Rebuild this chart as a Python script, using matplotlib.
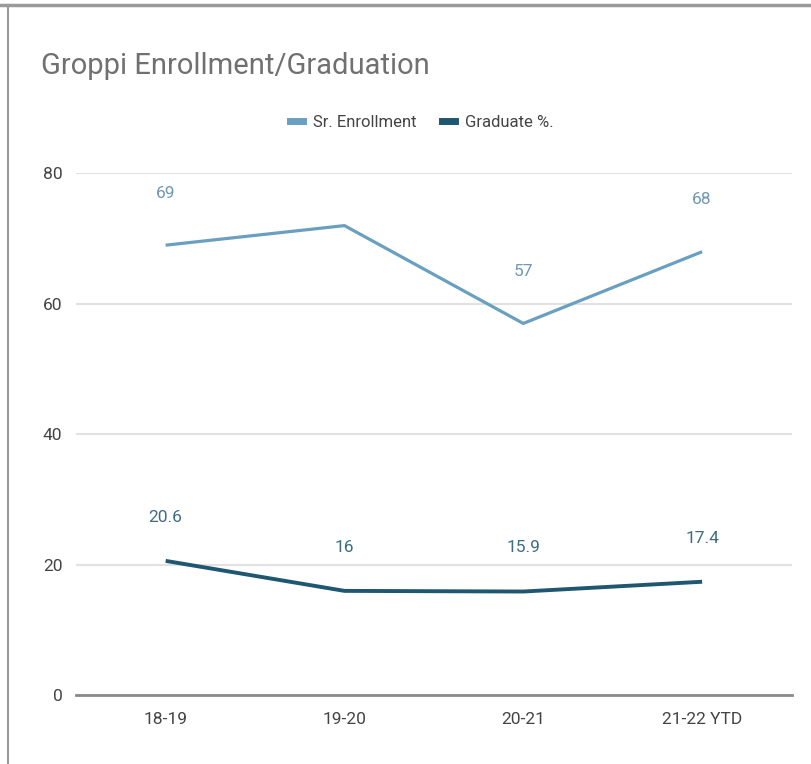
import matplotlib
matplotlib.use("Agg")
import matplotlib.pyplot as plt
from matplotlib.lines import Line2D

plt.rcParams['font.family'] = ['Roboto', 'DejaVu Sans']

# data
seasons = ['18-19', '19-20', '20-21', '21-22 YTD']
enrollment = [69, 72, 57, 68]
enroll_labels = ['69', '', '57', '68']
graduate = [20.6, 16, 15.9, 17.4]
grad_labels = ['20.6', '16', '15.9', '17.4']
y_ticks = [0, 20, 40, 60, 80]

c_enroll = '#6a9fc0'
c_grad = '#1f5670'

fig = plt.figure(figsize=(8.11, 7.64), dpi=100)
ax = fig.add_axes([0.094, 0.09, 0.882, 0.683])

x = range(len(seasons))
ax.plot(x, enrollment, color=c_enroll, lw=2.3, solid_capstyle='butt', label='Sr. Enrollment')
ax.plot(x, graduate, color=c_grad, lw=2.8, solid_capstyle='butt', label='Graduate %.')

for i, (v, t) in enumerate(zip(enrollment, enroll_labels)):
    if t:
        ax.annotate(t, (i, v), xytext=(0, 32), textcoords='offset points',
                    ha='center', va='bottom', fontsize=12.5, color='#6f98b2')
for i, (v, t) in enumerate(zip(graduate, grad_labels)):
    ax.annotate(t, (i, v), xytext=(0, 26), textcoords='offset points',
                ha='center', va='bottom', fontsize=12.5, color='#3f6d80')

ax.set_xlim(-0.5, len(seasons) - 0.5)
ax.set_ylim(0, 80)
ax.set_yticks(y_ticks)
ax.set_xticks(list(x))
ax.set_xticklabels(seasons)
ax.grid(axis='y', color='#e2e2e2', lw=1.5)
ax.set_axisbelow(True)
for s in ['top', 'right', 'left']:
    ax.spines[s].set_visible(False)
ax.spines['bottom'].set_color('#8a8a8a')
ax.spines['bottom'].set_linewidth(2)
ax.tick_params(length=0, labelsize=12.5, labelcolor='#444444', pad=12)
ax.tick_params(axis='y', pad=10)

fig.text(0.05, 0.913, 'Groppi Enrollment/Graduation', fontsize=21, color='#707070',
         va='center', ha='left')

handles = [Line2D([], [], color=c_enroll, lw=5), Line2D([], [], color=c_grad, lw=5)]
fig.legend(handles, ['Sr. Enrollment', 'Graduate %.'], loc='center',
           bbox_to_anchor=(0.52, 0.84), ncol=2, frameon=False, fontsize=12,
           handlelength=0.8, handletextpad=0.6, columnspacing=1.5,
           labelcolor='#444444')

# outer frame lines (top and left)
fig.add_artist(Line2D([0, 1], [0.994, 0.994], color='#9a9a9a', lw=2.5, transform=fig.transFigure))
fig.add_artist(Line2D([0.01, 0.01], [0, 0.994], color='#9a9a9a', lw=1.5, transform=fig.transFigure))

fig.savefig('out.png', dpi=100)
